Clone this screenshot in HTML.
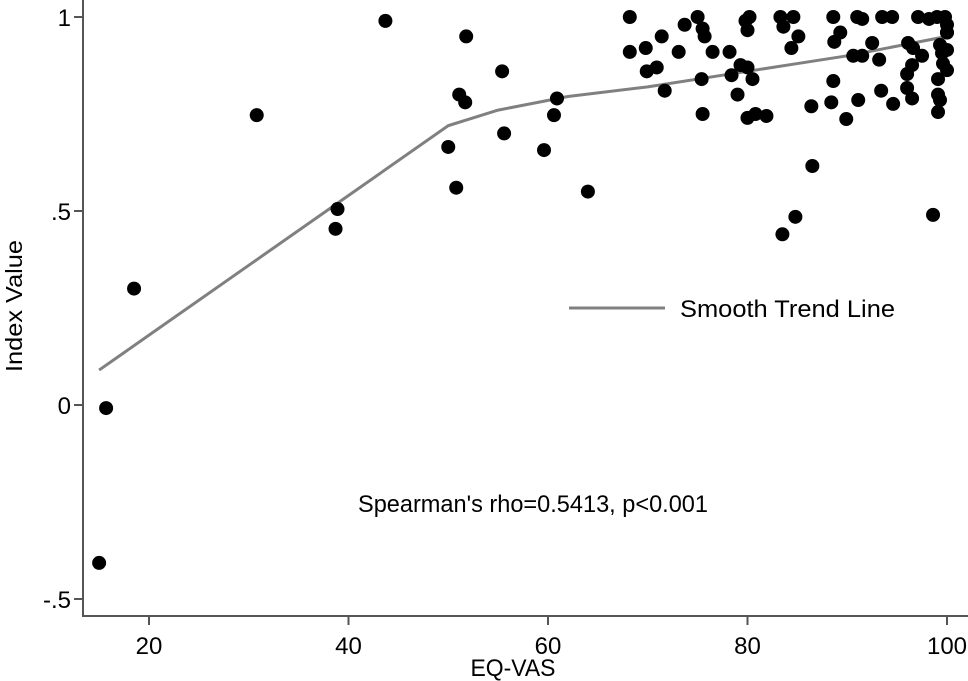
<!DOCTYPE html>
<html><head><meta charset="utf-8"><style>
body{margin:0;background:#fff}
svg{display:block;font-family:"Liberation Sans",Arial,sans-serif}
</style></head><body>
<svg id="chart" width="968" height="681">
<g id="axes"></g><g id="trend"></g><g id="pts"></g>
<text x="22" y="306" font-size="23" text-anchor="middle" textLength="132" lengthAdjust="spacingAndGlyphs" transform="rotate(-90 22 306)">Index Value</text>
<text x="513" y="676" font-size="24" text-anchor="middle" textLength="85" lengthAdjust="spacingAndGlyphs">EQ-VAS</text>
<line x1="569" y1="308" x2="665" y2="308" stroke="#808080" stroke-width="3"/>
<text x="680" y="317" font-size="24" textLength="215" lengthAdjust="spacingAndGlyphs">Smooth Trend Line</text>
<text x="358" y="512" font-size="24" textLength="350" lengthAdjust="spacingAndGlyphs">Spearman's rho=0.5413, p&lt;0.001</text>
</svg>
<script>
const xTicks=[20,40,60,80,100];
const yTicks=[-0.5,0,0.5,1];
const yTickLabels=["-.5","0",".5","1"];
const ptX=[15,15.7,18.5,30.8,38.7,38.9,43.7,50,50.8,51.1,51.7,51.8,55.4,55.6,59.6,60.6,60.9,64,
68.2,68.2,69.8,71.4,69.9,70.9,71.7,73.1,73.7,75,75.5,75.7,75.4,75.5,76.5,78.2,78.4,79,79.3,80,79.8,80.2,80,80.5,80,80.8,81.9,
83.3,83.6,84.6,85.1,84.4,86.4,86.5,84.8,83.5,88.6,89.3,88.7,88.6,88.4,89.9,91.1,90.6,91.5,91,91.5,92.5,93.2,93.4,94.6,93.5,94.5,
97.1,98.2,99,99.8,100,100,96.1,96.6,97.5,96.5,96,96,96.5,98.6,99.1,99.1,99.3,99.1,99.5,100,100,99.6,99.3,100];
const ptY=[-0.407,-0.008,0.30,0.747,0.454,0.505,0.99,0.665,0.56,0.80,0.78,0.95,0.86,0.70,0.657,0.747,0.79,0.55,
1.0,0.91,0.92,0.95,0.86,0.87,0.81,0.91,0.98,1.0,0.97,0.95,0.84,0.75,0.91,0.91,0.85,0.80,0.876,0.87,0.99,1.0,0.966,0.84,0.74,0.75,0.745,
1.0,0.975,1.0,0.95,0.92,0.77,0.616,0.485,0.44,1.0,0.96,0.936,0.835,0.78,0.737,0.786,0.90,0.90,1.0,0.995,0.933,0.89,0.81,0.776,1.0,1.0,
1.0,0.995,1.0,1.0,0.98,0.96,0.933,0.92,0.90,0.876,0.853,0.817,0.79,0.49,0.84,0.80,0.786,0.755,0.907,0.915,0.863,0.88,0.928,0.96];
const trendX=[15,20,30,40,50,55,62,70,80,85,90,100];
const trendY=[0.09,0.18,0.36,0.54,0.72,0.76,0.795,0.82,0.86,0.88,0.90,0.95];
const X=v=>149+(v-20)*9.975, Y=v=>405-v*388;
const NS="http://www.w3.org/2000/svg";
function mk(t,a,p){const e=document.createElementNS(NS,t);for(const k in a)e.setAttribute(k,a[k]);p.appendChild(e);return e;}
const ax=document.getElementById('axes');
let l=mk('line',{x1:83,y1:0,x2:83,y2:616,stroke:'#555','stroke-width':2},ax);


l=mk('line',{x1:82,y1:616,x2:968,y2:616,stroke:'#555','stroke-width':2},ax);


xTicks.forEach(v=>{mk('line',{x1:X(v),y1:616,x2:X(v),y2:625,stroke:'#555','stroke-width':2},ax);
const t=mk('text',{x:X(v),y:654,'font-size':24,'text-anchor':'middle'},ax);t.textContent=v;

});
yTicks.forEach((v,i)=>{mk('line',{x1:74,y1:Y(v),x2:83,y2:Y(v),stroke:'#555','stroke-width':2},ax);
const t=mk('text',{x:71,y:Y(v)+9,'font-size':24,'text-anchor':'end'},ax);t.textContent=yTickLabels[i];

});
const tr=mk('polyline',{points:trendX.map((v,i)=>X(v)+','+Y(trendY[i])).join(' '),fill:'none',stroke:'#808080','stroke-width':3},document.getElementById('trend'));


const pg=document.getElementById('pts');
ptX.forEach((v,i)=>{const c=mk('circle',{cx:X(v),cy:Y(ptY[i]),r:7,fill:'#000'},pg);

});
</script>
</body></html>
